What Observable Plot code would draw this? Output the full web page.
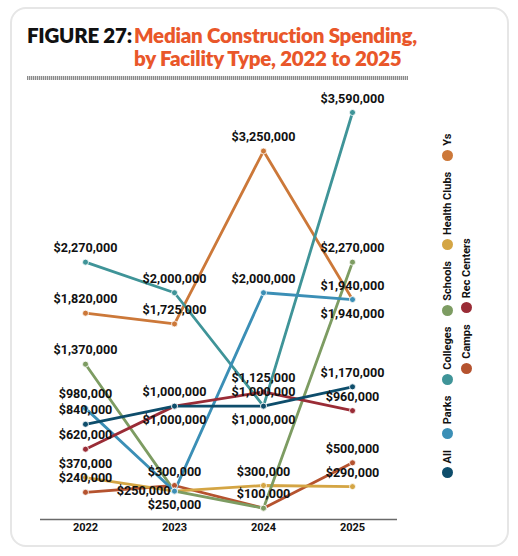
<!DOCTYPE html>
<html><head><meta charset="utf-8">
<script src="https://cdn.jsdelivr.net/npm/d3@7"></script>
<script src="https://cdn.jsdelivr.net/npm/@observablehq/plot@0.6"></script>
<style>
html,body{margin:0;padding:0;background:#fff;}
#wrap{position:relative;width:518px;height:556px;overflow:hidden;font-family:Roboto,"Liberation Sans",sans-serif;}
#card{position:absolute;left:10px;top:7px;width:499px;height:540px;border:2px solid #e6e6e6;border-radius:16px;box-sizing:border-box;}
.t{position:absolute;font-family:Lato,"Open Sans",sans-serif;font-weight:800;font-size:20.5px;line-height:23px;white-space:nowrap;letter-spacing:-0.25px;}
#t1{left:27px;top:24px;color:#111;}
#t2{left:134px;top:24px;color:#e9572a;}
#rule{position:absolute;left:27px;top:76px;width:381px;height:4px;background:repeating-linear-gradient(90deg,#8a8a8a 0 1px,#d6d6d6 1px 2px);}
#chart{position:absolute;left:0;top:80px;}
#legend{position:absolute;width:360px;height:38px;left:276.5px;top:287px;transform:rotate(-90deg);transform-origin:50% 50%;display:flex;flex-wrap:wrap;justify-content:center;column-gap:11px;row-gap:0;align-content:flex-start;}
.li{display:flex;align-items:center;height:19px;font-family:Roboto,"Liberation Sans",sans-serif;font-weight:700;font-size:11px;color:#111;}
.sw{width:11px;height:11px;border-radius:50%;margin-right:4px;flex:none;}
</style></head>
<body><div id="wrap">
<div id="card"></div>
<div class="t" id="t1">FIGURE 27:</div>
<div class="t" id="t2">Median Construction Spending,<br>by Facility Type, 2022 to 2025</div>
<div id="rule"></div>
<div id="chart"></div>
<div id="legend"></div>
</div>
<script>
const years = ["2022", "2023", "2024", "2025"];
const seriesNames = ["All", "Parks", "Colleges", "Schools", "Health Clubs", "Ys", "Camps", "Rec Centers"];
const allValues = [840000, 1000000, 1000000, 1170000];
const parksValues = [980000, 250000, 2000000, 1940000];
const collegesValues = [2270000, 2000000, 1000000, 3590000];
const schoolsValues = [1370000, 250000, 100000, 2270000];
const healthClubsValues = [370000, 250000, 300000, 290000];
const ysValues = [1820000, 1725000, 3250000, 1940000];
const campsValues = [240000, 300000, 100000, 500000];
const recCentersValues = [620000, 1000000, 1125000, 960000];

const colors = ["#0e4d6b", "#3b8fb6", "#3f9498", "#7d9c62", "#d4a544", "#cc7839", "#b5532f", "#9a2c36"];
const valueLists = [allValues, parksValues, collegesValues, schoolsValues, healthClubsValues, ysValues, campsValues, recCentersValues];

const rows = seriesNames.flatMap((s, i) => years.map((y, j) => ({series: s, year: y, value: valueLists[i][j]})));

const below = new Set(["All 2023", "All 2024", "Parks 2023", "Parks 2025"]);
const left = new Set(["Health Clubs 2023"]);
const none = new Set(["Schools 2023", "Schools 2024"]);
const key = d => d.series + " " + d.year;
const fmt = v => "$" + d3.format(",")(v);
const aboveRows = rows.filter(d => !below.has(key(d)) && !left.has(key(d)) && !none.has(key(d)));
const belowRows = rows.filter(d => below.has(key(d)));
const leftRows = rows.filter(d => left.has(key(d)));

const drawOrder = ["Ys", "Camps", "Health Clubs", "Schools", "Colleges", "Parks", "Rec Centers", "All"];
const lineRows = drawOrder.flatMap(s => rows.filter(d => d.series === s));

const txt = {fontWeight: "bold", fontSize: 12.6, fill: "#111", fontFamily: "Roboto, 'Liberation Sans', sans-serif"};

const chart = Plot.plot({
  width: 440,
  height: 470,
  marginLeft: 40,
  marginRight: 43,
  marginTop: 32,
  marginBottom: 31,
  style: {fontFamily: "Roboto, 'Liberation Sans', sans-serif", overflow: "visible", background: "transparent"},
  x: {type: "point", domain: years, padding: 0.5, label: null},
  y: {domain: [0, 3590000], axis: null},
  color: {domain: seriesNames, range: colors},
  marks: [
    Plot.axisX({tickSize: 0, tickPadding: 4, fontWeight: "bold", fontSize: 11, fill: "#111", label: null}),
    Plot.ruleY([0], {stroke: "#6a6a6a", strokeWidth: 1.6}),
    Plot.line(lineRows, {x: "year", y: "value", z: "series", stroke: "series", strokeWidth: 2.8}),
    Plot.dot(lineRows, {x: "year", y: "value", fill: "series", r: 3, stroke: "white", strokeWidth: 0.8}),
    Plot.text(aboveRows, {x: "year", y: "value", text: d => fmt(d.value), dy: -14, ...txt}),
    Plot.text(belowRows, {x: "year", y: "value", text: d => fmt(d.value), dy: 14, ...txt}),
    Plot.text(leftRows, {x: "year", y: "value", text: d => fmt(d.value), dx: -4, textAnchor: "end", ...txt})
  ]
});
document.getElementById("chart").appendChild(chart);

const leg = document.getElementById("legend");
seriesNames.forEach((s, i) => {
  const item = document.createElement("div");
  item.className = "li";
  const sw = document.createElement("span");
  sw.className = "sw";
  sw.style.background = colors[i];
  item.appendChild(sw);
  item.appendChild(document.createTextNode(s));
  leg.appendChild(item);
});
</script>
</body></html>
